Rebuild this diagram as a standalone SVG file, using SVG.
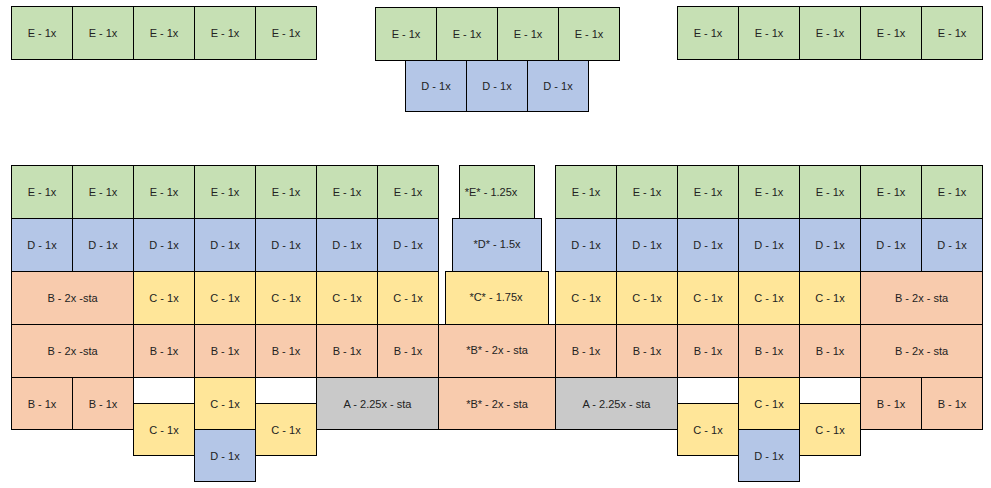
<svg xmlns="http://www.w3.org/2000/svg" width="991" height="488" viewBox="0 0 991 488">
<style>
rect{stroke:#000;stroke-width:1}
.e{fill:#C6E0B4}.d{fill:#B4C6E7}.c{fill:#FFE699}.b{fill:#F8CBAD}.a{fill:#C9C9C9}
text{font-family:"Liberation Sans",Arial,sans-serif;font-size:11px;fill:#222;text-anchor:middle}
</style>
<rect x="0" y="0" width="991" height="488" style="fill:#fff;stroke:none"/>
<g id="top-left">
<g id="tl1"><rect class="e" x="11.5" y="6.5" width="61" height="53"/><text x="42" y="37">E - 1x</text></g>
<g id="tl2"><rect class="e" x="72.5" y="6.5" width="61" height="53"/><text x="103" y="37">E - 1x</text></g>
<g id="tl3"><rect class="e" x="133.5" y="6.5" width="61" height="53"/><text x="164" y="37">E - 1x</text></g>
<g id="tl4"><rect class="e" x="194.5" y="6.5" width="61" height="53"/><text x="225" y="37">E - 1x</text></g>
<g id="tl5"><rect class="e" x="255.5" y="6.5" width="61" height="53"/><text x="286" y="37">E - 1x</text></g>
</g>
<g id="top-mid">
<g id="tm1"><rect class="e" x="375.5" y="7.5" width="61" height="53"/><text x="406" y="38">E - 1x</text></g>
<g id="tm2"><rect class="e" x="436.5" y="7.5" width="61" height="53"/><text x="467" y="38">E - 1x</text></g>
<g id="tm3"><rect class="e" x="497.5" y="7.5" width="61" height="53"/><text x="528" y="38">E - 1x</text></g>
<g id="tm4"><rect class="e" x="558.5" y="7.5" width="61" height="53"/><text x="589" y="38">E - 1x</text></g>
<g id="tmd1"><rect class="d" x="405.5" y="60.5" width="61" height="51"/><text x="436" y="90">D - 1x</text></g>
<g id="tmd2"><rect class="d" x="466.5" y="60.5" width="61" height="51"/><text x="497" y="90">D - 1x</text></g>
<g id="tmd3"><rect class="d" x="527.5" y="60.5" width="61" height="51"/><text x="558" y="90">D - 1x</text></g>
</g>
<g id="top-right">
<g id="tr1"><rect class="e" x="677.5" y="6.5" width="61" height="53"/><text x="708" y="37">E - 1x</text></g>
<g id="tr2"><rect class="e" x="738.5" y="6.5" width="61" height="53"/><text x="769" y="37">E - 1x</text></g>
<g id="tr3"><rect class="e" x="799.5" y="6.5" width="61" height="53"/><text x="830" y="37">E - 1x</text></g>
<g id="tr4"><rect class="e" x="860.5" y="6.5" width="61" height="53"/><text x="891" y="37">E - 1x</text></g>
<g id="tr5"><rect class="e" x="921.5" y="6.5" width="61" height="53"/><text x="952" y="37">E - 1x</text></g>
</g>
<g id="left-half">
<g id="le1"><rect class="e" x="11.5" y="165.5" width="61" height="53"/><text x="42" y="196">E - 1x</text></g>
<g id="le2"><rect class="e" x="72.5" y="165.5" width="61" height="53"/><text x="103" y="196">E - 1x</text></g>
<g id="le3"><rect class="e" x="133.5" y="165.5" width="61" height="53"/><text x="164" y="196">E - 1x</text></g>
<g id="le4"><rect class="e" x="194.5" y="165.5" width="61" height="53"/><text x="225" y="196">E - 1x</text></g>
<g id="le5"><rect class="e" x="255.5" y="165.5" width="61" height="53"/><text x="286" y="196">E - 1x</text></g>
<g id="le6"><rect class="e" x="316.5" y="165.5" width="61" height="53"/><text x="347" y="196">E - 1x</text></g>
<g id="le7"><rect class="e" x="377.5" y="165.5" width="61" height="53"/><text x="408" y="196">E - 1x</text></g>
<g id="ld1"><rect class="d" x="11.5" y="218.5" width="61" height="53"/><text x="42" y="249">D - 1x</text></g>
<g id="ld2"><rect class="d" x="72.5" y="218.5" width="61" height="53"/><text x="103" y="249">D - 1x</text></g>
<g id="ld3"><rect class="d" x="133.5" y="218.5" width="61" height="53"/><text x="164" y="249">D - 1x</text></g>
<g id="ld4"><rect class="d" x="194.5" y="218.5" width="61" height="53"/><text x="225" y="249">D - 1x</text></g>
<g id="ld5"><rect class="d" x="255.5" y="218.5" width="61" height="53"/><text x="286" y="249">D - 1x</text></g>
<g id="ld6"><rect class="d" x="316.5" y="218.5" width="61" height="53"/><text x="347" y="249">D - 1x</text></g>
<g id="ld7"><rect class="d" x="377.5" y="218.5" width="61" height="53"/><text x="408" y="249">D - 1x</text></g>
<g id="lb2a"><rect class="b" x="11.5" y="271.5" width="122" height="53"/><text x="72.5" y="302">B - 2x -sta</text></g>
<g id="lc1"><rect class="c" x="133.5" y="271.5" width="61" height="53"/><text x="164" y="302">C - 1x</text></g>
<g id="lc2"><rect class="c" x="194.5" y="271.5" width="61" height="53"/><text x="225" y="302">C - 1x</text></g>
<g id="lc3"><rect class="c" x="255.5" y="271.5" width="61" height="53"/><text x="286" y="302">C - 1x</text></g>
<g id="lc4"><rect class="c" x="316.5" y="271.5" width="61" height="53"/><text x="347" y="302">C - 1x</text></g>
<g id="lc5"><rect class="c" x="377.5" y="271.5" width="61" height="53"/><text x="408" y="302">C - 1x</text></g>
<g id="lb2b"><rect class="b" x="11.5" y="324.5" width="122" height="53"/><text x="72.5" y="355">B - 2x -sta</text></g>
<g id="lb1"><rect class="b" x="133.5" y="324.5" width="61" height="53"/><text x="164" y="355">B - 1x</text></g>
<g id="lb2"><rect class="b" x="194.5" y="324.5" width="61" height="53"/><text x="225" y="355">B - 1x</text></g>
<g id="lb3"><rect class="b" x="255.5" y="324.5" width="61" height="53"/><text x="286" y="355">B - 1x</text></g>
<g id="lb4"><rect class="b" x="316.5" y="324.5" width="61" height="53"/><text x="347" y="355">B - 1x</text></g>
<g id="lb5"><rect class="b" x="377.5" y="324.5" width="61" height="53"/><text x="408" y="355">B - 1x</text></g>
<g id="lb6"><rect class="b" x="11.5" y="377.5" width="61" height="52"/><text x="42" y="407.5">B - 1x</text></g>
<g id="lb7"><rect class="b" x="72.5" y="377.5" width="61" height="52"/><text x="103" y="407.5">B - 1x</text></g>
<g id="lc6"><rect class="c" x="133.5" y="403.5" width="61" height="52"/><text x="164" y="433.5">C - 1x</text></g>
<g id="lc7"><rect class="c" x="194.5" y="377.5" width="61" height="52"/><text x="225" y="407.5">C - 1x</text></g>
<g id="ld8"><rect class="d" x="194.5" y="429.5" width="61" height="52"/><text x="225" y="459.5">D - 1x</text></g>
<g id="lc8"><rect class="c" x="255.5" y="403.5" width="61" height="52"/><text x="286" y="433.5">C - 1x</text></g>
<g id="la"><rect class="a" x="316.5" y="377.5" width="122" height="52"/><text x="377.5" y="407.5">A - 2.25x - sta</text></g>
</g>
<g id="center">
<g id="ce"><rect class="e" x="459.5" y="165.5" width="75" height="53"/><text x="491" y="196">*E* - 1.25x</text></g>
<g id="cd"><rect class="d" x="452.5" y="218.5" width="89" height="53"/><text x="497" y="248">*D* - 1.5x</text></g>
<g id="cc"><rect class="c" x="445.5" y="271.5" width="103" height="53"/><text x="496" y="301">*C* - 1.75x</text></g>
<g id="cb1"><rect class="b" x="438.5" y="324.5" width="117" height="53"/><text x="497" y="354">*B* - 2x - sta</text></g>
<g id="cb2"><rect class="b" x="438.5" y="377.5" width="117" height="52"/><text x="497" y="407.5">*B* - 2x - sta</text></g>
</g>
<g id="right-half">
<g id="re1"><rect class="e" x="555.5" y="165.5" width="61" height="53"/><text x="586" y="196">E - 1x</text></g>
<g id="re2"><rect class="e" x="616.5" y="165.5" width="61" height="53"/><text x="647" y="196">E - 1x</text></g>
<g id="re3"><rect class="e" x="677.5" y="165.5" width="61" height="53"/><text x="708" y="196">E - 1x</text></g>
<g id="re4"><rect class="e" x="738.5" y="165.5" width="61" height="53"/><text x="769" y="196">E - 1x</text></g>
<g id="re5"><rect class="e" x="799.5" y="165.5" width="61" height="53"/><text x="830" y="196">E - 1x</text></g>
<g id="re6"><rect class="e" x="860.5" y="165.5" width="61" height="53"/><text x="891" y="196">E - 1x</text></g>
<g id="re7"><rect class="e" x="921.5" y="165.5" width="61" height="53"/><text x="952" y="196">E - 1x</text></g>
<g id="rd1"><rect class="d" x="555.5" y="218.5" width="61" height="53"/><text x="586" y="249">D - 1x</text></g>
<g id="rd2"><rect class="d" x="616.5" y="218.5" width="61" height="53"/><text x="647" y="249">D - 1x</text></g>
<g id="rd3"><rect class="d" x="677.5" y="218.5" width="61" height="53"/><text x="708" y="249">D - 1x</text></g>
<g id="rd4"><rect class="d" x="738.5" y="218.5" width="61" height="53"/><text x="769" y="249">D - 1x</text></g>
<g id="rd5"><rect class="d" x="799.5" y="218.5" width="61" height="53"/><text x="830" y="249">D - 1x</text></g>
<g id="rd6"><rect class="d" x="860.5" y="218.5" width="61" height="53"/><text x="891" y="249">D - 1x</text></g>
<g id="rd7"><rect class="d" x="921.5" y="218.5" width="61" height="53"/><text x="952" y="249">D - 1x</text></g>
<g id="rc1"><rect class="c" x="555.5" y="271.5" width="61" height="53"/><text x="586" y="302">C - 1x</text></g>
<g id="rc2"><rect class="c" x="616.5" y="271.5" width="61" height="53"/><text x="647" y="302">C - 1x</text></g>
<g id="rc3"><rect class="c" x="677.5" y="271.5" width="61" height="53"/><text x="708" y="302">C - 1x</text></g>
<g id="rc4"><rect class="c" x="738.5" y="271.5" width="61" height="53"/><text x="769" y="302">C - 1x</text></g>
<g id="rc5"><rect class="c" x="799.5" y="271.5" width="61" height="53"/><text x="830" y="302">C - 1x</text></g>
<g id="rb2a"><rect class="b" x="860.5" y="271.5" width="122" height="53"/><text x="921.5" y="302">B - 2x - sta</text></g>
<g id="rb1"><rect class="b" x="555.5" y="324.5" width="61" height="53"/><text x="586" y="355">B - 1x</text></g>
<g id="rb2"><rect class="b" x="616.5" y="324.5" width="61" height="53"/><text x="647" y="355">B - 1x</text></g>
<g id="rb3"><rect class="b" x="677.5" y="324.5" width="61" height="53"/><text x="708" y="355">B - 1x</text></g>
<g id="rb4"><rect class="b" x="738.5" y="324.5" width="61" height="53"/><text x="769" y="355">B - 1x</text></g>
<g id="rb5"><rect class="b" x="799.5" y="324.5" width="61" height="53"/><text x="830" y="355">B - 1x</text></g>
<g id="rb2b"><rect class="b" x="860.5" y="324.5" width="122" height="53"/><text x="921.5" y="355">B - 2x - sta</text></g>
<g id="ra"><rect class="a" x="555.5" y="377.5" width="122" height="52"/><text x="616.5" y="407.5">A - 2.25x - sta</text></g>
<g id="rc6"><rect class="c" x="677.5" y="403.5" width="61" height="52"/><text x="708" y="433.5">C - 1x</text></g>
<g id="rc7"><rect class="c" x="738.5" y="377.5" width="61" height="52"/><text x="769" y="407.5">C - 1x</text></g>
<g id="rd8"><rect class="d" x="738.5" y="429.5" width="61" height="52"/><text x="769" y="459.5">D - 1x</text></g>
<g id="rc8"><rect class="c" x="799.5" y="403.5" width="61" height="52"/><text x="830" y="433.5">C - 1x</text></g>
<g id="rb6"><rect class="b" x="860.5" y="377.5" width="61" height="52"/><text x="891" y="407.5">B - 1x</text></g>
<g id="rb7"><rect class="b" x="921.5" y="377.5" width="61" height="52"/><text x="952" y="407.5">B - 1x</text></g>
</g>
<g id="connectors"/>
</svg>
